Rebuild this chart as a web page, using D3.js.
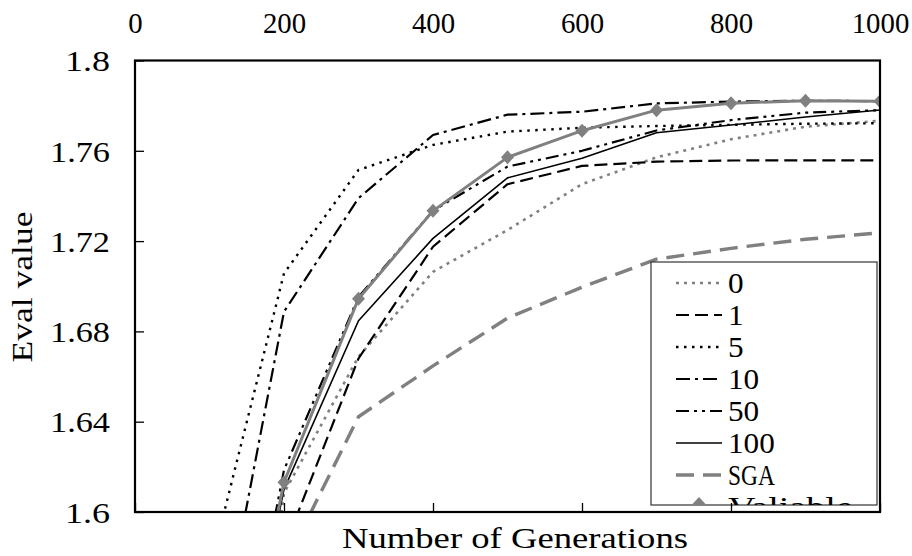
<!DOCTYPE html>
<html>
<head>
<meta charset="utf-8">
<script src="https://cdn.jsdelivr.net/npm/d3@7"></script>
<style>
  html, body { margin: 0; padding: 0; background: #fff; }
  svg { display: block; }
  text { font-family: "Liberation Serif", "DejaVu Serif", serif; fill: #000; }
</style>
</head>
<body>
<svg id="chart" width="912" height="556"></svg>
<script>
// ---------- data ----------
const generations = [100, 200, 300, 400, 500, 600, 700, 800, 900, 1000];
const seriesNames = ["0", "1", "5", "10", "50", "100", "SGA", "Valiable"];
const s0    = [1.35,  1.6084, 1.6688, 1.7064, 1.7249, 1.7452, 1.7571, 1.7651, 1.7707, 1.7733];
const s1    = [1.45,  1.584,  1.668,  1.7175, 1.7452, 1.7533, 1.7552, 1.7557, 1.7558, 1.7558];
const s5    = [1.574, 1.7057, 1.7515, 1.7626, 1.7685, 1.7702, 1.7710, 1.7715, 1.7720, 1.7722];
const s10   = [1.5167,1.6887, 1.7390, 1.7670, 1.7760, 1.7773, 1.7810, 1.7818, 1.7822, 1.7820];
const s50   = [1.45,  1.6186, 1.6953, 1.7335, 1.7530, 1.7600, 1.7690, 1.7736, 1.7769, 1.7780];
const s100  = [1.45,  1.6100, 1.6847, 1.7212, 1.7480, 1.7567, 1.7680, 1.7714, 1.7750, 1.7781];
const sSGA  = [1.45,  1.576,  1.6422, 1.6647, 1.6859, 1.6996, 1.7120, 1.7168, 1.7208, 1.7237];
const sVal  = [1.45,  1.6132, 1.6945, 1.7334, 1.7571, 1.7689, 1.7780, 1.7811, 1.7822, 1.7820];
const seriesValues = [s0, s1, s5, s10, s50, s100, sSGA, sVal];

const xTicks = [0, 200, 400, 600, 800, 1000];
const xTickLabels = ["0", "200", "400", "600", "800", "1000"];
const yTicks = [1.6, 1.64, 1.68, 1.72, 1.76, 1.8];
const yTickLabels = ["1.6", "1.64", "1.68", "1.72", "1.76", "1.8"];
const xTitle = "Number of Generations";
const yTitle = "Eval value";

// ---------- styles ----------
const GRAY = "#808080";
const styles = [
  { color: GRAY,   width: 2.6, dash: "3,5" },            // 0
  { color: "#000", width: 2.2, dash: "13,6" },           // 1
  { color: "#000", width: 2.4, dash: "2.5,5.5" },        // 5
  { color: "#000", width: 2.2, dash: "14,5,3,5" },       // 10
  { color: "#000", width: 2.2, dash: "13,5,3,5,3,5" },   // 50
  { color: "#000", width: 1.6, dash: null },             // 100
  { color: GRAY,   width: 3.4, dash: "18,9" },           // SGA
  { color: GRAY,   width: 3.0, dash: null, marker: true } // Valiable
];

// ---------- layout ----------
const svg = d3.select("#chart");
const L = 135, R = 880, T = 60.5, B = 512;
const x = d3.scaleLinear().domain([0, 1000]).range([L, R]);
const y = d3.scaleLinear().domain([1.6, 1.8]).range([B, T]);
const FS = 30;           // font size
const CW = 14.4;         // char width (monospace look)

svg.append("rect").attr("width", 912).attr("height", 556).attr("fill", "#fff");

const defs = svg.append("defs");
defs.append("clipPath").attr("id", "plotclip")
  .append("rect").attr("x", L).attr("y", T).attr("width", R - L).attr("height", B - T);

// lines
const line = d3.line().x((d, i) => x(generations[i])).y(d => y(d));
const plot = svg.append("g").attr("clip-path", "url(#plotclip)");
const diamond = (cx, cy) => `M${cx},${cy - 7}L${cx + 6.5},${cy}L${cx},${cy + 7}L${cx - 6.5},${cy}Z`;

seriesValues.forEach((vals, k) => {
  const st = styles[k];
  plot.append("path")
    .attr("d", line(vals))
    .attr("fill", "none")
    .attr("stroke", st.color)
    .attr("stroke-width", st.width)
    .attr("stroke-dasharray", st.dash)
    .attr("stroke-linejoin", "round");
  if (st.marker) {
    plot.selectAll(null).data(vals).enter().append("path")
      .attr("d", (d, i) => diamond(x(generations[i]), y(d)))
      .attr("fill", st.color);
  }
});

// legend
const legX = 651, legY = 262, legW = 226, legH = 243;
defs.append("clipPath").attr("id", "legclip")
  .append("rect").attr("x", legX).attr("y", legY).attr("width", legW).attr("height", legH);
const leg = svg.append("g");
leg.append("rect").attr("x", legX).attr("y", legY).attr("width", legW).attr("height", legH)
  .attr("fill", "#fff").attr("stroke", "#333").attr("stroke-width", 1.2);
const legInner = leg.append("g").attr("clip-path", "url(#legclip)");
const rowY = d3.scaleLinear().domain([0, 7]).range([283, 507]);
seriesNames.forEach((name, k) => {
  const st = styles[k];
  const cy = rowY(k);
  legInner.append("line")
    .attr("x1", 676).attr("x2", 722).attr("y1", cy).attr("y2", cy)
    .attr("stroke", st.color).attr("stroke-width", st.width)
    .attr("stroke-dasharray", st.dash);
  if (st.marker) legInner.append("path").attr("d", diamond(699, cy - 3)).attr("fill", st.color);
  legInner.append("text")
    .attr("x", 728).attr("y", cy).attr("dy", "0.34em")
    .attr("font-size", FS)
    .attr("textLength", name.length * 15.6).attr("lengthAdjust", "spacingAndGlyphs")
    .text(name);
});

// axes
const xTop = svg.append("g").attr("transform", `translate(0,${T})`)
  .call(d3.axisTop(x).tickValues(xTicks).tickFormat((d, i) => xTickLabels[i]).tickSize(0).tickPadding(28));
xTop.select(".domain").remove();
xTop.selectAll("text").attr("font-size", FS).attr("font-family", null)
  .each(function(d, i) {
    d3.select(this).attr("textLength", xTickLabels[i].length * CW).attr("lengthAdjust", "spacingAndGlyphs");
  });

const xBot = svg.append("g").attr("transform", `translate(0,${B})`)
  .call(d3.axisBottom(x).tickValues(xTicks).tickFormat("").tickSizeInner(-9).tickSizeOuter(0));
xBot.select(".domain").remove();
xBot.selectAll("line").attr("stroke", "#000").attr("stroke-width", 1.3);

const yAx = svg.append("g").attr("transform", `translate(${L},0)`)
  .call(d3.axisLeft(y).tickValues(yTicks).tickFormat((d, i) => yTickLabels[i]).tickSizeInner(-9).tickSizeOuter(0).tickPadding(25));
yAx.select(".domain").remove();
yAx.selectAll("line").attr("stroke", "#000").attr("stroke-width", 1.3);
yAx.selectAll("text").attr("font-size", FS).attr("font-family", null).attr("dy", "0.34em")
  .each(function(d, i) {
    d3.select(this).attr("textLength", yTickLabels[i].length * 15).attr("lengthAdjust", "spacingAndGlyphs");
  });

// plot border
svg.append("rect").attr("x", L).attr("y", T).attr("width", R - L).attr("height", B - T)
  .attr("fill", "none").attr("stroke", "#000").attr("stroke-width", 2.2);

// titles
svg.append("text")
  .attr("x", 515).attr("y", 538).attr("dy", "0.34em").attr("text-anchor", "middle")
  .attr("font-size", FS - 1).attr("textLength", 346).attr("lengthAdjust", "spacingAndGlyphs")
  .text(xTitle);
svg.append("text")
  .attr("transform", "translate(22,287) rotate(-90)")
  .attr("dy", "0.34em").attr("text-anchor", "middle")
  .attr("font-size", FS).attr("textLength", 151).attr("lengthAdjust", "spacingAndGlyphs")
  .text(yTitle);
</script>
</body>
</html>
